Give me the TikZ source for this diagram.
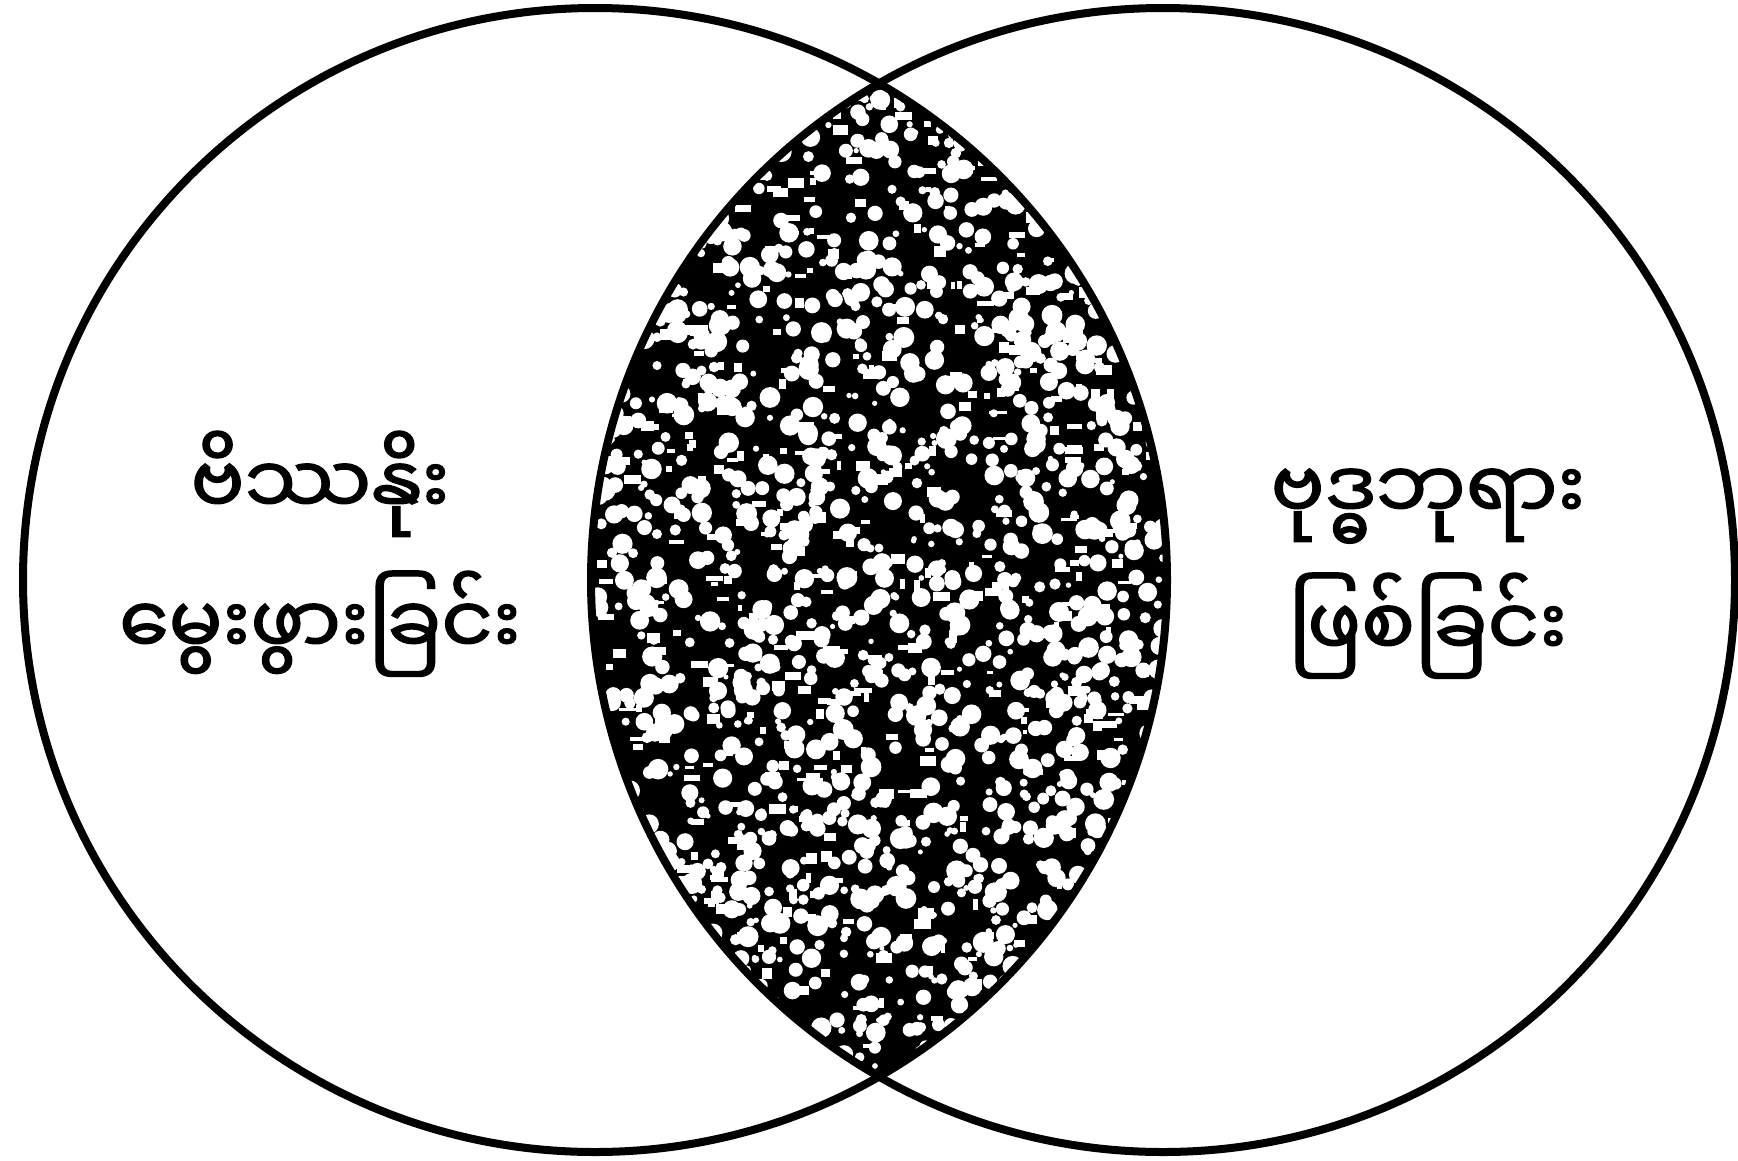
\documentclass[tikz,border=0pt]{standalone}
\usepackage{fontspec}
\newfontfamily\mya[Script=Myanmar,FakeBold=1.6]{Noto Sans Myanmar UI}
\tikzset{
  ring/.style={line width=8pt, draw=black},
  lbl/.style={anchor=base, inner sep=0pt, font=\mya\fontsize{80}{96}\selectfont}
}
\begin{document}
\begin{tikzpicture}[x=1pt,y=-1pt]
\useasboundingbox (0,0) rectangle (1738,1160);
\fill[white] (0,0) rectangle (1738,1160);
% lens texture
\begin{scope}
  \clip (595,580) circle[radius=572];
  \clip (1163,580) circle[radius=572];
  \fill[black] (580,60) rectangle (1180,1100);
  \pgfmathsetseed{4711}
  \foreach \i in {1,...,1700}{
    \pgfmathsetmacro\px{595+570*rnd}
    \pgfmathsetmacro\py{90+980*rnd}
    \pgfmathsetmacro\pr{2.5+8*rnd}
    \fill[white] (\px,\py) circle[radius=\pr];
  }
  \foreach \i in {1,...,500}{
    \pgfmathsetmacro\px{595+570*rnd}
    \pgfmathsetmacro\py{90+980*rnd}
    \pgfmathsetmacro\pw{4+14*rnd}
    \pgfmathsetmacro\ph{3+8*rnd}
    \fill[white] (\px,\py) rectangle ++(\pw,\ph);
  }
\end{scope}
\draw[ring] (595,580) circle[radius=572];
\draw[ring] (1163,580) circle[radius=572];
\node[lbl] (l1) at (320,515) {ဗိဿနိုး};
\node[lbl] (l2) at (320,655) {မွေးဖွားခြင်း};
\node[lbl] (r1) at (1428,520) {ဗုဒ္ဓဘုရား};
\node[lbl] (r2) at (1428,657) {ဖြစ်ခြင်း};
\end{tikzpicture}
\end{document}
